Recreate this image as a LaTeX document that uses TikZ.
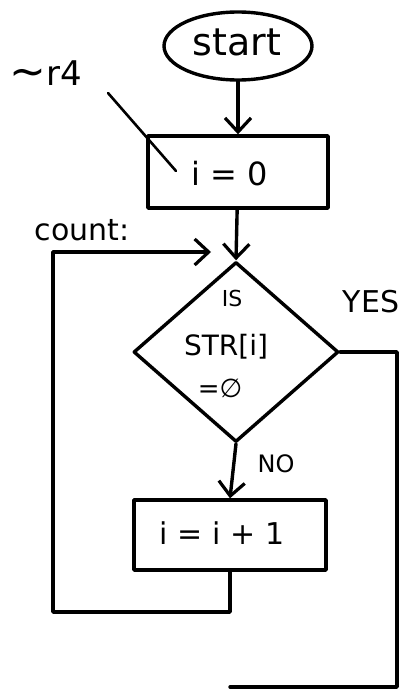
\documentclass[tikz,border=0pt]{standalone}
\usepackage{fontspec}
\setmainfont{DejaVu Sans}
\usetikzlibrary{shapes.geometric,arrows.meta}
\begin{document}
\begin{tikzpicture}[x=1pt,y=-1pt,
  line width=3.4pt,line join=round,line cap=round,
  arr/.style={-{Straight Barb[length=14pt,width=26pt,line width=3.2pt]}},
  txt/.style={inner sep=0pt,font=\fontsize{#1}{#1}\selectfont},
  pbox/.style={draw,rectangle,inner sep=0pt,line width=3.4pt},
]
\useasboundingbox (0,0) rectangle (401,690);
% nodes
\node[draw,ellipse,line width=3.4pt,minimum width=148pt,minimum height=68pt,inner sep=0pt] (start) at (238,46) {};
\node[txt=38] (startt) at (237,42) {start};
\node[pbox,minimum width=180pt,minimum height=72pt] (init) at (238,172) {};
\node[txt=32] (initt) at (230,174) {i = 0};
\node[draw,diamond,line width=3.4pt,minimum width=205pt,minimum height=180pt,inner sep=0pt] (dia) at (236,352) {};
\node[txt=22] (is) at (232,298) {IS};
\node[txt=28] (str) at (226,347) {STR[i]};
\node[txt=26] (eq) at (220,388) {=∅};
\node[pbox,minimum width=192pt,minimum height=70pt] (inc) at (230,535) {};
\node[txt=30] (inct) at (222,533) {i = i + 1};
\node[txt=34] (r4) at (46,74) {{\fontsize{44}{44}\selectfont\raisebox{-0.02em}{\textasciitilde}}r4};
\node[txt=30,anchor=west] (count) at (33,230) {count:};
\node[txt=30] (yes) at (371,302) {YES};
\node[txt=24] (no) at (276,464) {NO};
% coordinates
\coordinate (r4a) at (108,93);
\coordinate (r4b) at (176,171);
\coordinate (lp1) at (53,612);
\coordinate (lpEnd) at (211,252);
\coordinate (y2) at (397,687);
\coordinate (y3) at (230,687);
% connectors
\draw[arr] (start) -- (init);
\draw[arr] (init) -- (dia.north);
\draw[arr] (dia.south) -- (inc.north);
\draw[arr] (inc.south) |- (lp1) |- (lpEnd);
\draw (dia.east) -| (y2) -- (y3);
\draw[line width=2.6pt] (r4a) -- (r4b);
\end{tikzpicture}
\end{document}
